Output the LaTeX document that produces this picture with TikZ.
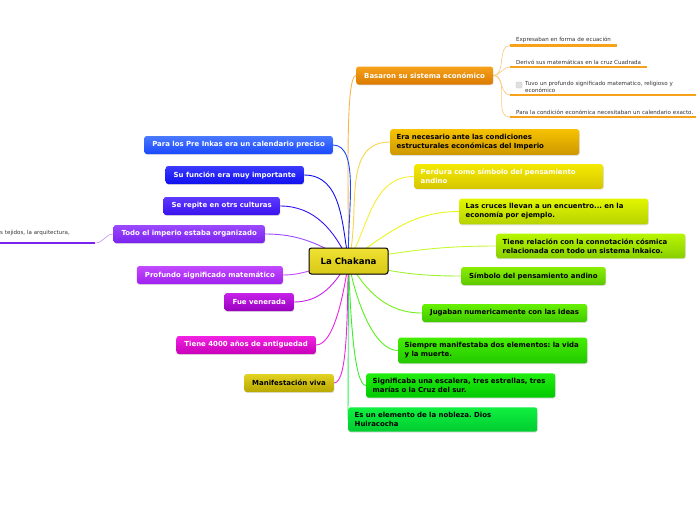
\documentclass[tikz,border=0pt]{standalone}
\usepackage{fontspec}
\setmainfont{DejaVu Sans}
\usetikzlibrary{shadows,backgrounds}
\frenchspacing

% colours of the branches
\definecolor{orgA}{HTML}{F7A21B}\definecolor{orgB}{HTML}{D97A00}
\definecolor{gldA}{HTML}{F6C200}\definecolor{gldB}{HTML}{CE9800}
\definecolor{yelA}{HTML}{F4EA00}\definecolor{yelB}{HTML}{D6C600}
\definecolor{ygrA}{HTML}{E2F600}\definecolor{ygrB}{HTML}{B6D200}
\definecolor{lgrA}{HTML}{B8F600}\definecolor{lgrB}{HTML}{88CE00}
\definecolor{grnA}{HTML}{8AEE00}\definecolor{grnB}{HTML}{5CC800}
\definecolor{gr2A}{HTML}{66F000}\definecolor{gr2B}{HTML}{40CA00}
\definecolor{gr3A}{HTML}{44EE00}\definecolor{gr3B}{HTML}{22C800}
\definecolor{gr4A}{HTML}{22EE10}\definecolor{gr4B}{HTML}{00C800}
\definecolor{gr5A}{HTML}{10F040}\definecolor{gr5B}{HTML}{00CC30}
\definecolor{bluA}{HTML}{4A7AFF}\definecolor{bluB}{HTML}{1A48FF}
\definecolor{bl2A}{HTML}{3A3AFF}\definecolor{bl2B}{HTML}{1010EE}
\definecolor{vioA}{HTML}{5E3AFF}\definecolor{vioB}{HTML}{3A12EE}
\definecolor{purA}{HTML}{9C4AFF}\definecolor{purB}{HTML}{7A22EE}
\definecolor{pu2A}{HTML}{C24AFF}\definecolor{pu2B}{HTML}{A020EE}
\definecolor{magA}{HTML}{C622EA}\definecolor{magB}{HTML}{9A00C0}
\definecolor{pinA}{HTML}{F222E2}\definecolor{pinB}{HTML}{C800B8}
\definecolor{oliA}{HTML}{E2D222}\definecolor{oliB}{HTML}{B8A800}
\definecolor{chkA}{HTML}{F0E232}\definecolor{chkB}{HTML}{D8C818}

\begin{document}
\begin{tikzpicture}[x=1pt, y=-1pt,
    topic/.style={rounded corners=2.5pt, inner xsep=8pt, inner ysep=5pt,
      minimum height=18pt, font=\fontsize{6.95}{9}\selectfont\bfseries,
      drop shadow={shadow xshift=0.6pt, shadow yshift=-0.9pt, opacity=0.25}},
    wide/.style={topic, inner xsep=6.5pt, text width=176pt, align=left},
    shade/.style 2 args={top color=#1, bottom color=#2},
    sub/.style={anchor=south west, inner xsep=6pt, inner ysep=2.5pt,
      font=\fontsize{5.55}{6.4}\selectfont, text=black!80},
    underline/.style={line width=2.4pt},
    branch/.style={line width=0.9pt}]

  \useasboundingbox (0,0) rectangle (696,520);

  % centre
  \node[draw=black, line width=1pt, rounded corners=2.5pt, shade={chkA}{chkB},
    minimum width=79pt, minimum height=26pt, font=\fontsize{8.6}{10}\selectfont\bfseries,
    drop shadow={shadow xshift=0.6pt, shadow yshift=-0.9pt, opacity=0.25}]
    (chak) at (348.5,261) {La Chakana};

  % right side
  \node[topic, shade={orgA}{orgB}, text=white, anchor=west] (basaron) at (356,75.5)
    {Basaron su sistema económico};
  \node[wide, shade={gldA}{gldB}, anchor=west] (eranec) at (390,142)
    {Era necesario ante las condiciones\\estructurales económicas del Imperio};
  \node[wide, shade={yelA}{yelB}, text=white, anchor=west] (perdura) at (414,176.5)
    {Perdura como símbolo del pensamiento\\andino};
  \node[wide, shade={ygrA}{ygrB}, anchor=west] (cruces) at (459,211.5)
    {Las cruces llevan a un encuentro... en la\\economía por ejemplo.};
  \node[wide, shade={lgrA}{lgrB}, anchor=west] (relacion) at (496,246)
    {Tiene relación con la connotación cósmica\\relacionada con todo un sistema Inkaico.};
  \node[topic, shade={grnA}{grnB}, anchor=west] (simbolo) at (461,276)
    {Símbolo del pensamiento andino};
  \node[topic, shade={gr2A}{gr2B}, anchor=west] (jugaban) at (422,313)
    {Jugaban numericamente con las ideas};
  \node[wide, shade={gr3A}{gr3B}, anchor=west] (siempre) at (398,350.5)
    {Siempre manifestaba dos elementos: la vida\\y la muerte.};
  \node[wide, shade={gr4A}{gr4B}, anchor=west] (escalera) at (366,385.5)
    {Significaba una escalera, tres estrellas, tres\\marías o la Cruz del sur.};
  \node[wide, shade={gr5A}{gr5B}, anchor=west] (nobleza) at (348,419.5)
    {Es un elemento de la nobleza. Dios\\Huiracocha};

  % left side
  \node[topic, shade={bluA}{bluB}, text=white, anchor=east] (preinkas) at (333,145)
    {Para los Pre Inkas era un calendario preciso};
  \node[topic, shade={bl2A}{bl2B}, text=white, anchor=east] (funcion) at (304,175)
    {Su función era muy importante};
  \node[topic, shade={vioA}{vioB}, text=white, anchor=east] (repite) at (280,206)
    {Se repite en otrs culturas};
  \node[topic, shade={purA}{purB}, text=white, anchor=east] (imperio) at (265,234)
    {Todo el imperio estaba organizado};
  \node[topic, shade={pu2A}{pu2B}, text=white, anchor=east] (profundo) at (283,275)
    {Profundo significado matemático};
  \node[topic, shade={magA}{magB}, text=white, anchor=east] (venerada) at (294,302)
    {Fue venerada};
  \node[topic, shade={pinA}{pinB}, text=white, anchor=east] (antiguedad) at (316,345)
    {Tiene 4000 años de antiguedad};
  \node[topic, shade={oliA}{oliB}, anchor=east] (viva) at (334,383)
    {Manifestación viva};

  % notes under Basaron
  \node[sub] (ecuacion) at (510,45.5) {Expresaban en forma de ecuación};
  \node[sub] (cuadrada) at (510,67) {Derivó sus matemáticas en la cruz Cuadrada};
  \node[sub, text width=174pt, align=left] (religioso) at (510,95)
    {\hspace*{9pt}Tuvo un profundo significado matematico, religioso y\\\hspace*{9pt}económico};
  \node[fill=black!12, draw=black!25, line width=0.3pt, rounded corners=1pt,
    minimum size=6pt, inner sep=0pt] (caja) at (519,85) {};
  \node[sub, text width=184pt, align=left] (calendario) at (510,117)
    {Para la condición económica necesitaban un calendario exacto.};

  % note under Todo el imperio
  \node[sub, text width=89pt, align=left, inner ysep=7pt] (tejidos) at (-6,243)
    {s tejidos, la arquitectura,};

  \begin{scope}[on background layer]
    \draw[branch, orgA!80] (chak.center) to[out=90, in=180, in looseness=0.15] (basaron.west);
    \draw[branch, gldA!70] (chak.center) to[out=75, in=180] (eranec.west);
    \draw[branch, yelA!80] (chak.center) to[out=60, in=180] (perdura.west);
    \draw[branch, ygrA!90] (chak.center) to[out=35, in=180] (cruces.west);
    \draw[branch, lgrA!80] (chak.center) to[out=10, in=180] (relacion.west);
    \draw[branch, grnA!80] (chak.center) to[out=-15, in=180] (simbolo.west);
    \draw[branch, gr2A!90] (chak.center) to[out=-60, in=180] (jugaban.west);
    \draw[branch, gr3A!90] (chak.center) to[out=-80, in=180, in looseness=0.6] (siempre.west);
    \draw[branch, gr4A!90] (chak.center) to[out=-88, in=180, in looseness=0.25] (escalera.west);
    \draw[branch, gr5A!90] (chak.center) -- (nobleza.west);

    \draw[branch, bluB] (chak.center) to[out=92, in=0, in looseness=0.6] (preinkas.east);
    \draw[branch, bl2B] (chak.center) to[out=100, in=0] (funcion.east);
    \draw[branch, vioB] (chak.center) to[out=115, in=0] (repite.east);
    \draw[branch, purA] (chak.center) to[out=150, in=0] (imperio.east);
    \draw[branch, pu2A] (chak.center) to[out=185, in=0] (profundo.east);
    \draw[branch, magA] (chak.center) to[out=240, in=0] (venerada.east);
    \draw[branch, pinA] (chak.center) to[out=262, in=0, in looseness=0.5] (antiguedad.east);
    \draw[branch, pinA] (chak.center) to[out=268, in=0, in looseness=0.3] (viva.east);

    \draw[line width=0.6pt, orgA!60] (basaron.east) to[out=0, in=180] (ecuacion.south west);
    \draw[line width=0.6pt, orgA!60] (basaron.east) to[out=0, in=180] (cuadrada.south west);
    \draw[line width=0.6pt, orgA!60] (basaron.east) to[out=0, in=180] (religioso.south west);
    \draw[line width=0.6pt, orgA!60] (basaron.east) to[out=0, in=180] (calendario.south west);
    \draw[line width=0.6pt, purA!60] (imperio.west) to[out=180, in=0] (tejidos.south east);
  \end{scope}

  \draw[underline, orgA] (ecuacion.south west) -- (ecuacion.south east);
  \draw[underline, orgA] (cuadrada.south west) -- (cuadrada.south east);
  \draw[underline, orgA] (religioso.south west) -- (religioso.south east);
  \draw[underline, orgA] (calendario.south west) -- (calendario.south east);
  \draw[underline, purB] (tejidos.south west) -- (tejidos.south east);
\end{tikzpicture}
\end{document}
